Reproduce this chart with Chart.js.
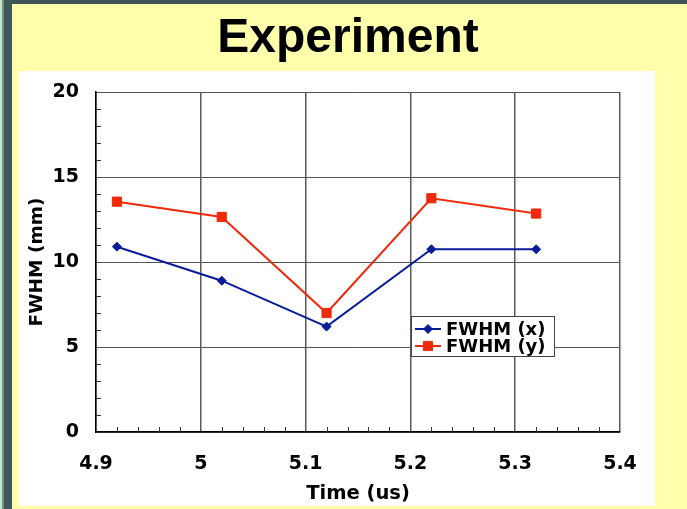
<!DOCTYPE html>
<html>
<head>
<meta charset="utf-8">
<script src="https://cdn.jsdelivr.net/npm/chart.js@4"></script>
<style>
  html, body { margin: 0; padding: 0; background: #ffffac; }
  canvas { display: block; }
</style>
</head>
<body>
<canvas id="fwhmChart" width="687" height="509"></canvas>
<script>
// values
const timeUs = [4.92, 5.02, 5.12, 5.22, 5.32];
const fwhmX = [10.9, 8.9, 6.2, 10.75, 10.75];
const fwhmY = [13.55, 12.65, 7.0, 13.75, 12.85];
const seriesNames = ['FWHM (x)', 'FWHM (y)'];
const slideTitle = 'Experiment';

const blue = '#0a1c9a';
const red = '#ee2a0c';
const tickFont = { family: 'DejaVu Sans', weight: 'bold', size: 19 };

// yellow slide, dark frame, white panel behind the plot, slide title
const framePlugin = {
  id: 'frame',
  beforeDraw(chart) {
    const c = chart.ctx;
    c.save();
    c.fillStyle = '#ffffac';
    c.fillRect(0, 0, chart.width, chart.height);
    c.fillStyle = '#3c5454';
    c.fillRect(0, 0, chart.width, 4);
    c.fillStyle = '#bfe8c8';
    c.fillRect(0, 0, 2, chart.height);
    c.fillStyle = '#7a8c8c';
    c.fillRect(2, 0, 2, chart.height);
    c.fillStyle = '#3f5858';
    c.fillRect(4, 0, 8, chart.height);
    c.fillStyle = '#ffffff';
    c.fillRect(19, 71, 636, 435);
    c.fillStyle = '#000';
    c.font = 'bold 48px "Liberation Sans"';
    c.textAlign = 'center';
    c.textBaseline = 'alphabetic';
    c.fillText(slideTitle, 348, 52);
    c.restore();
  }
};

// short inward minor ticks on the left and bottom axes
const minorTicks = {
  id: 'minorTicks',
  beforeDatasetsDraw(chart) {
    const c = chart.ctx;
    const xs = chart.scales.x, ys = chart.scales.y;
    const area = chart.chartArea;
    c.save();
    c.strokeStyle = '#333';
    c.lineWidth = 1;
    c.beginPath();
    for (let v = 1; v < 20; v++) {
      if (v % 5 === 0) continue;
      const py = Math.round(ys.getPixelForValue(v)) + 0.5;
      c.moveTo(area.left, py);
      c.lineTo(area.left + 5, py);
    }
    for (let i = 1; i < 25; i++) {
      if (i % 5 === 0) continue;
      const px = Math.round(xs.getPixelForValue(4.9 + i * 0.02)) + 0.5;
      c.moveTo(px, area.bottom);
      c.lineTo(px, area.bottom - 5);
    }
    c.stroke();
    c.restore();
  }
};

// boxed legend sitting inside the plot
const boxLegend = {
  id: 'boxLegend',
  afterDraw(chart) {
    const c = chart.ctx;
    const x0 = 411, y0 = 316, w = 143, h = 40;
    c.save();
    c.fillStyle = '#fff';
    c.fillRect(x0, y0, w, h);
    c.strokeStyle = '#444';
    c.lineWidth = 1;
    c.strokeRect(x0 + 0.5, y0 + 0.5, w, h);
    chart.data.datasets.forEach((ds, i) => {
      const cy = y0 + 13 + i * 17;
      c.strokeStyle = ds.borderColor;
      c.fillStyle = ds.backgroundColor;
      c.lineWidth = 2;
      c.beginPath();
      c.moveTo(x0 + 4, cy);
      c.lineTo(x0 + 30, cy);
      c.stroke();
      c.lineWidth = 1;
      Chart.helpers.drawPoint(c, {
        pointStyle: ds.pointStyle, radius: ds.pointRadius, borderWidth: 1, rotation: 0
      }, x0 + 17, cy);
      c.fillStyle = '#000';
      c.font = 'bold 18px "DejaVu Sans"';
      c.textAlign = 'left';
      c.textBaseline = 'middle';
      c.fillText(ds.label, x0 + 35, cy + 1);
    });
    c.restore();
  }
};

const ctx = document.getElementById('fwhmChart').getContext('2d');
new Chart(ctx, {
  type: 'scatter',
  data: {
    datasets: [
      {
        label: seriesNames[0],
        data: timeUs.map((t, i) => ({ x: t, y: fwhmX[i] })),
        showLine: true,
        borderColor: blue,
        backgroundColor: blue,
        borderWidth: 2,
        pointStyle: 'rectRot',
        pointRadius: 4.5,
        pointBorderWidth: 1
      },
      {
        label: seriesNames[1],
        data: timeUs.map((t, i) => ({ x: t, y: fwhmY[i] })),
        showLine: true,
        borderColor: red,
        backgroundColor: red,
        borderWidth: 2,
        pointStyle: 'rect',
        pointRadius: 6.5,
        pointBorderWidth: 1
      }
    ]
  },
  options: {
    responsive: false,
    animation: false,
    devicePixelRatio: 1,
    layout: { padding: { left: 0, right: 67, top: 92, bottom: 0 } },
    plugins: {
      legend: { display: false },
      tooltip: { enabled: false },
      title: { display: false }
    },
    scales: {
      x: {
        type: 'linear',
        min: 4.9,
        max: 5.4,
        afterFit(scale) { scale.height = 77; },
        ticks: {
          stepSize: 0.1,
          padding: 21,
          color: '#000',
          font: tickFont,
          maxRotation: 0,
          callback: v => String(Math.round(v * 10) / 10)
        },
        grid: { color: '#5a5a5a', lineWidth: 1.5, drawTicks: false },
        border: { color: '#000', width: 1.5 },
        title: {
          display: true,
          text: 'Time (us)',
          color: '#000',
          font: { family: 'DejaVu Sans', weight: 'bold', size: 19.5, lineHeight: 1.2 },
          padding: { top: 0, bottom: 3 }
        }
      },
      y: {
        min: 0,
        max: 20,
        afterFit(scale) { scale.width = 96; },
        ticks: { stepSize: 5, padding: 17, color: '#000', font: tickFont },
        grid: { color: '#555', lineWidth: 1, drawTicks: false },
        border: { color: '#000', width: 1.5 },
        title: {
          display: true,
          text: 'FWHM (mm)',
          color: '#000',
          font: { family: 'DejaVu Sans', weight: 'bold', size: 18.5, lineHeight: 1.2 },
          padding: { top: 26, bottom: 0 }
        }
      }
    }
  },
  plugins: [framePlugin, minorTicks, boxLegend]
});
</script>
</body>
</html>
